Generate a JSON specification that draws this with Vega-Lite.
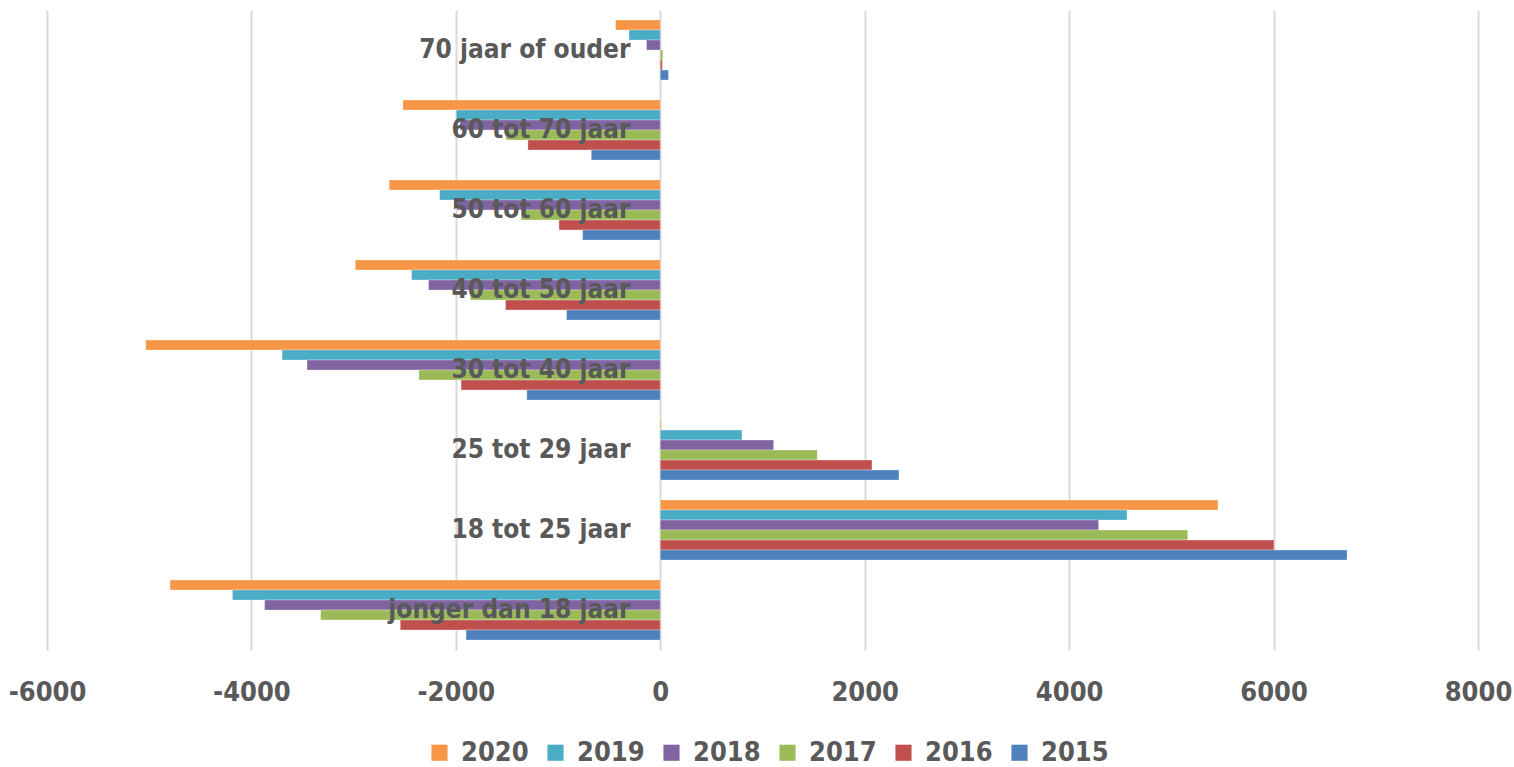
{
  "$schema": "https://vega.github.io/schema/vega-lite/v6.json",
  "width": 1431,
  "height": 640,
  "autosize": {"type": "none"},
  "padding": {"left": 47, "top": 10, "right": 36, "bottom": 117},
  "background": "white",
  "config": {
    "view": {"stroke": null},
    "font": "DejaVu Sans Condensed, Lato, sans-serif"
  },
  "data": {
    "values": [
      {"group": "70 jaar of ouder", "year": "2020", "value": -437},
      {"group": "70 jaar of ouder", "year": "2019", "value": -306},
      {"group": "70 jaar of ouder", "year": "2018", "value": -135},
      {"group": "70 jaar of ouder", "year": "2017", "value": 25},
      {"group": "70 jaar of ouder", "year": "2016", "value": 20},
      {"group": "70 jaar of ouder", "year": "2015", "value": 80},
      {"group": "60 tot 70 jaar", "year": "2020", "value": -2518},
      {"group": "60 tot 70 jaar", "year": "2019", "value": -1996},
      {"group": "60 tot 70 jaar", "year": "2018", "value": -1960},
      {"group": "60 tot 70 jaar", "year": "2017", "value": -1510},
      {"group": "60 tot 70 jaar", "year": "2016", "value": -1295},
      {"group": "60 tot 70 jaar", "year": "2015", "value": -675},
      {"group": "50 tot 60 jaar", "year": "2020", "value": -2652},
      {"group": "50 tot 60 jaar", "year": "2019", "value": -2159},
      {"group": "50 tot 60 jaar", "year": "2018", "value": -1990},
      {"group": "50 tot 60 jaar", "year": "2017", "value": -1363},
      {"group": "50 tot 60 jaar", "year": "2016", "value": -991},
      {"group": "50 tot 60 jaar", "year": "2015", "value": -760},
      {"group": "40 tot 50 jaar", "year": "2020", "value": -2984},
      {"group": "40 tot 50 jaar", "year": "2019", "value": -2433},
      {"group": "40 tot 50 jaar", "year": "2018", "value": -2267},
      {"group": "40 tot 50 jaar", "year": "2017", "value": -1859},
      {"group": "40 tot 50 jaar", "year": "2016", "value": -1514},
      {"group": "40 tot 50 jaar", "year": "2015", "value": -917},
      {"group": "30 tot 40 jaar", "year": "2020", "value": -5034},
      {"group": "30 tot 40 jaar", "year": "2019", "value": -3700},
      {"group": "30 tot 40 jaar", "year": "2018", "value": -3456},
      {"group": "30 tot 40 jaar", "year": "2017", "value": -2362},
      {"group": "30 tot 40 jaar", "year": "2016", "value": -1949},
      {"group": "30 tot 40 jaar", "year": "2015", "value": -1306},
      {"group": "25 tot 29 jaar", "year": "2020", "value": 10},
      {"group": "25 tot 29 jaar", "year": "2019", "value": 799},
      {"group": "25 tot 29 jaar", "year": "2018", "value": 1109},
      {"group": "25 tot 29 jaar", "year": "2017", "value": 1536},
      {"group": "25 tot 29 jaar", "year": "2016", "value": 2071},
      {"group": "25 tot 29 jaar", "year": "2015", "value": 2335},
      {"group": "18 tot 25 jaar", "year": "2020", "value": 5456},
      {"group": "18 tot 25 jaar", "year": "2019", "value": 4566},
      {"group": "18 tot 25 jaar", "year": "2018", "value": 4288},
      {"group": "18 tot 25 jaar", "year": "2017", "value": 5160},
      {"group": "18 tot 25 jaar", "year": "2016", "value": 6004},
      {"group": "18 tot 25 jaar", "year": "2015", "value": 6719},
      {"group": "jonger dan 18 jaar", "year": "2020", "value": -4796},
      {"group": "jonger dan 18 jaar", "year": "2019", "value": -4186},
      {"group": "jonger dan 18 jaar", "year": "2018", "value": -3871},
      {"group": "jonger dan 18 jaar", "year": "2017", "value": -3323},
      {"group": "jonger dan 18 jaar", "year": "2016", "value": -2544},
      {"group": "jonger dan 18 jaar", "year": "2015", "value": -1900}
    ]
  },
  "mark": {"type": "bar", "stroke": "white", "strokeOpacity": 0.5, "strokeWidth": 0.6},
  "encoding": {
    "x": {
      "field": "value",
      "type": "quantitative",
      "scale": {"domain": [-6000, 8000], "nice": false, "zero": false},
      "axis": {
        "title": null,
        "values": [-6000, -4000, -2000, 0, 2000, 4000, 6000, 8000],
        "labelExpr": "'' + datum.value",
        "labelFlush": false,
        "labelOverlap": false,
        "domain": false,
        "ticks": false,
        "grid": true,
        "gridColor": "#d9d9d9",
        "gridWidth": 2,
        "labelFont": "DejaVu Sans Condensed, Lato, sans-serif",
        "labelFontSize": 27,
        "labelFontWeight": "bold",
        "labelColor": "#595959",
        "labelPadding": 29
      }
    },
    "y": {
      "field": "group",
      "type": "nominal",
      "sort": ["70 jaar of ouder", "60 tot 70 jaar", "50 tot 60 jaar", "40 tot 50 jaar", "30 tot 40 jaar", "25 tot 29 jaar", "18 tot 25 jaar", "jonger dan 18 jaar"],
      "scale": {"paddingInner": 0.25, "paddingOuter": 0.125},
      "axis": {
        "title": null,
        "offset": -613,
        "zindex": 1,
        "domain": false,
        "ticks": false,
        "grid": false,
        "labelLimit": 0,
        "labelFont": "DejaVu Sans Condensed, Lato, sans-serif",
        "labelFontSize": 26,
        "labelFontWeight": "bold",
        "labelColor": "#595959",
        "labelPadding": 30
      }
    },
    "yOffset": {
      "field": "year",
      "type": "nominal",
      "sort": ["2020", "2019", "2018", "2017", "2016", "2015"],
      "scale": {"paddingInner": 0, "paddingOuter": 0}
    },
    "color": {
      "field": "year",
      "type": "nominal",
      "sort": ["2020", "2019", "2018", "2017", "2016", "2015"],
      "scale": {
        "domain": ["2020", "2019", "2018", "2017", "2016", "2015"],
        "range": ["#F79646", "#4BACC6", "#8064A2", "#9BBB59", "#C0504D", "#4F81BD"]
      },
      "legend": {
        "title": null,
        "orient": "none",
        "legendX": 379,
        "legendY": 729,
        "direction": "horizontal",
        "columns": 6,
        "symbolType": "square",
        "symbolSize": 260,
        "symbolStrokeWidth": 0,
        "labelLimit": 0,
        "labelFont": "DejaVu Sans Condensed, Lato, sans-serif",
        "labelFontSize": 27,
        "labelFontWeight": "bold",
        "labelColor": "#595959",
        "labelOffset": 8,
        "columnPadding": 13
      }
    }
  }
}
